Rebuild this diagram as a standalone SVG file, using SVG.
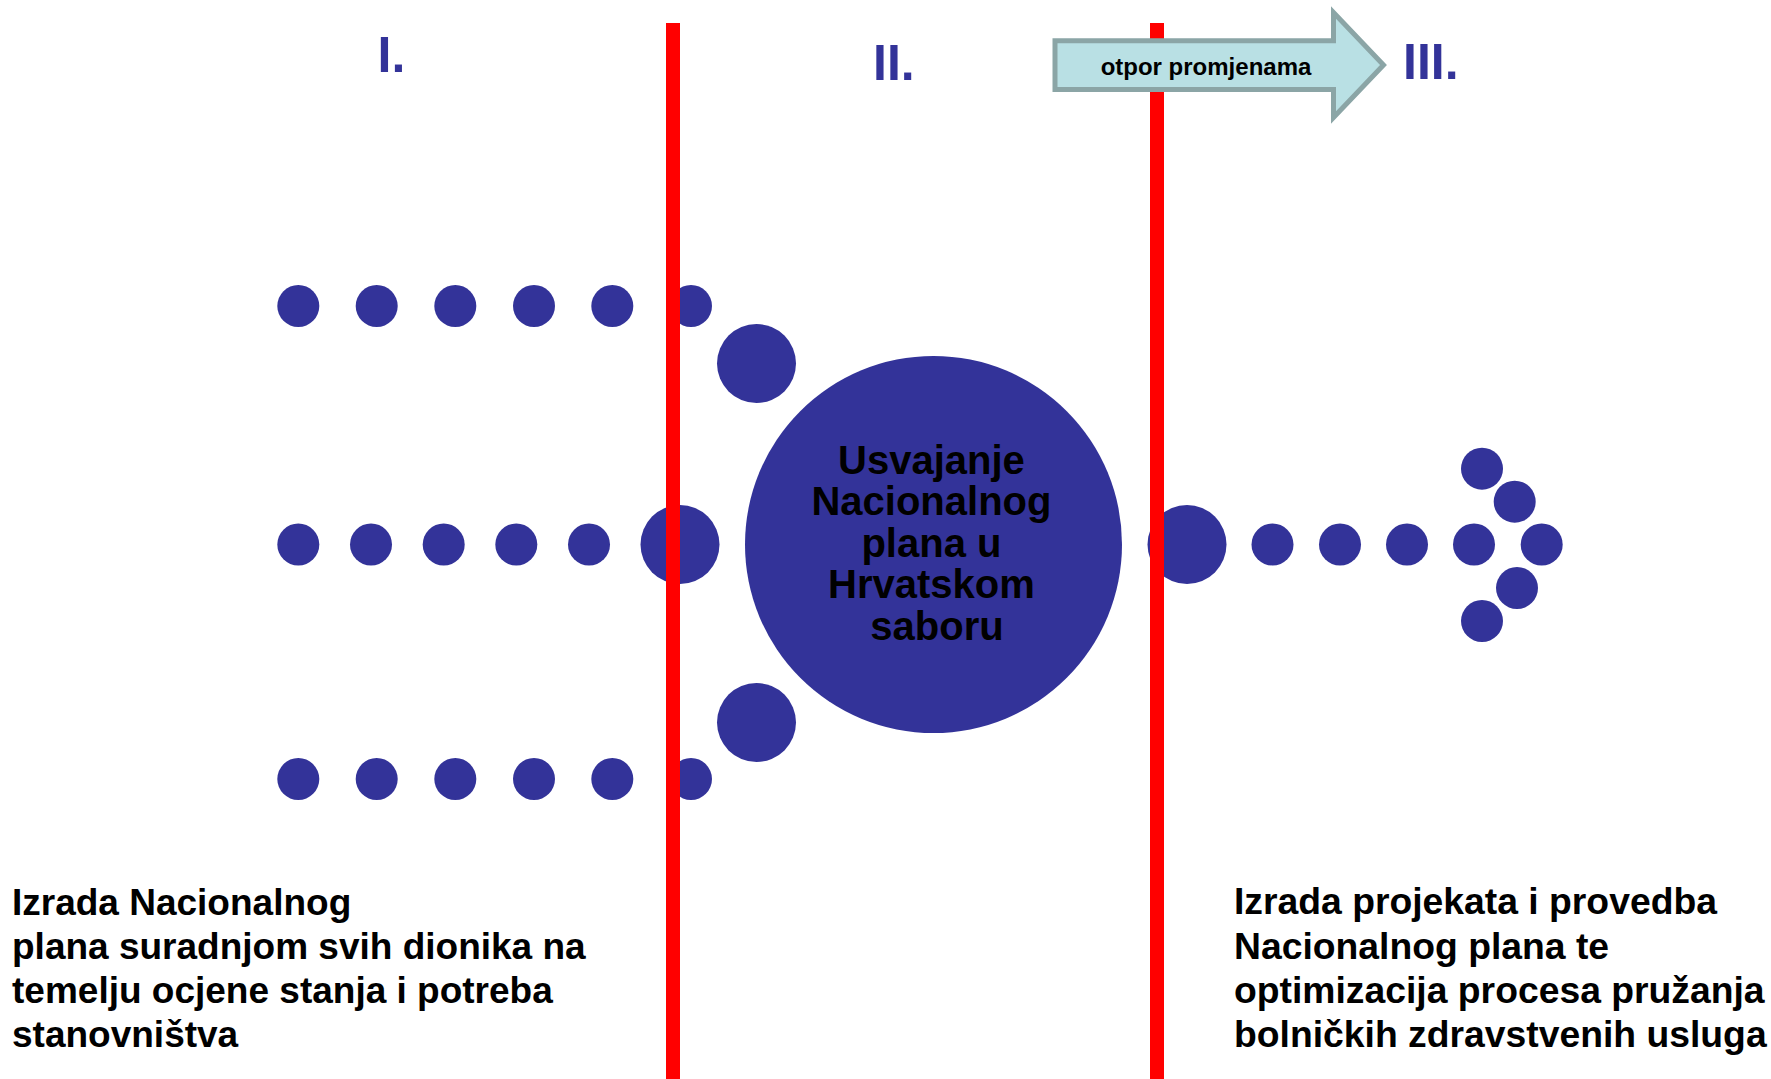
<svg xmlns="http://www.w3.org/2000/svg" width="1771" height="1079" viewBox="0 0 1771 1079">
  <style>
    .dot { fill: #333399; }
    .title { font-family: "Liberation Sans", Arial, sans-serif; font-weight: bold; font-size: 50px; fill: #333399; }
    .txt { font-family: "Liberation Sans", Arial, sans-serif; font-weight: bold; fill: #000000; }
    .divider { stroke: #ff0000; stroke-width: 14; }
  </style>
  <rect x="0" y="0" width="1771" height="1079" fill="#ffffff"/>

  <g id="titles">
    <text class="title" x="377.5" y="72">I.</text>
    <text class="title" x="873" y="80">II.</text>
    <text class="title" x="1403" y="79">III.</text>
  </g>

  <g id="stream-top">
    <circle class="dot" cx="298.3" cy="306" r="21"/>
    <circle class="dot" cx="376.7" cy="306" r="21"/>
    <circle class="dot" cx="455.3" cy="306" r="21"/>
    <circle class="dot" cx="534" cy="306" r="21"/>
    <circle class="dot" cx="612.3" cy="306" r="21"/>
    <circle class="dot" cx="691" cy="306" r="21"/>
    <circle class="dot" cx="756.5" cy="363.5" r="39.5"/>
  </g>

  <g id="stream-middle">
    <circle class="dot" cx="298.3" cy="544.5" r="21"/>
    <circle class="dot" cx="371" cy="544.5" r="21"/>
    <circle class="dot" cx="443.7" cy="544.5" r="21"/>
    <circle class="dot" cx="516.3" cy="544.5" r="21"/>
    <circle class="dot" cx="589" cy="544.5" r="21"/>
    <circle class="dot" cx="680" cy="544.5" r="39.5"/>
  </g>

  <g id="stream-bottom">
    <circle class="dot" cx="298.3" cy="779" r="21"/>
    <circle class="dot" cx="376.7" cy="779" r="21"/>
    <circle class="dot" cx="455.3" cy="779" r="21"/>
    <circle class="dot" cx="534" cy="779" r="21"/>
    <circle class="dot" cx="612.3" cy="779" r="21"/>
    <circle class="dot" cx="691" cy="779" r="21"/>
    <circle class="dot" cx="756.5" cy="722.5" r="39.5"/>
  </g>

  <g id="center-node">
    <circle class="dot" cx="933.5" cy="544.5" r="188.5"/>
    <text class="txt" font-size="40" text-anchor="middle">
      <tspan x="937" y="473.5">Usvajanje</tspan>
      <tspan x="937" y="515.1">Nacionalnog</tspan>
      <tspan x="937" y="556.7">plana u</tspan>
      <tspan x="937" y="598.3">Hrvatskom</tspan>
      <tspan x="937" y="639.9">saboru</tspan>
    </text>
  </g>

  <g id="stream-out">
    <circle class="dot" cx="1187" cy="544.5" r="39.5"/>
    <circle class="dot" cx="1272.5" cy="544.5" r="21"/>
    <circle class="dot" cx="1340" cy="544.5" r="21"/>
    <circle class="dot" cx="1407" cy="544.5" r="21"/>
    <circle class="dot" cx="1474" cy="544.5" r="21"/>
    <circle class="dot" cx="1541.7" cy="544.5" r="21"/>
    <circle class="dot" cx="1482" cy="468.7" r="21"/>
    <circle class="dot" cx="1514.7" cy="501.7" r="21"/>
    <circle class="dot" cx="1517" cy="588" r="21"/>
    <circle class="dot" cx="1482" cy="621" r="21"/>
  </g>

  <g id="connectors">
    <line class="divider" x1="673" y1="23" x2="673" y2="1079"/>
    <line class="divider" x1="1157" y1="23" x2="1157" y2="1079"/>
  </g>

  <g id="resistance-arrow">
    <path d="M1055,40.7 L1333.5,40.7 L1333.5,12.5 L1383.5,65 L1333.5,117.5 L1333.5,89.5 L1055,89.5 Z" fill="#b9e0e4" stroke="#8ba5a6" stroke-width="5" stroke-linejoin="miter"/>
    <text class="txt" font-size="24" x="1206" y="75" text-anchor="middle">otpor promjenama</text>
  </g>

  <g id="phase1-text">
    <text class="txt" font-size="37">
      <tspan x="12" y="915">Izrada Nacionalnog</tspan>
      <tspan x="12" y="959">plana suradnjom svih dionika na</tspan>
      <tspan x="12" y="1003">temelju ocjene stanja i potreba</tspan>
      <tspan x="12" y="1047">stanovništva</tspan>
    </text>
  </g>

  <g id="phase3-text">
    <text class="txt" font-size="37.3">
      <tspan x="1234" y="914">Izrada projekata i provedba</tspan>
      <tspan x="1234" y="958.5">Nacionalnog plana te</tspan>
      <tspan x="1234" y="1002.7">optimizacija procesa pružanja</tspan>
      <tspan x="1234" y="1046.7">bolničkih zdravstvenih usluga</tspan>
    </text>
  </g>
</svg>
